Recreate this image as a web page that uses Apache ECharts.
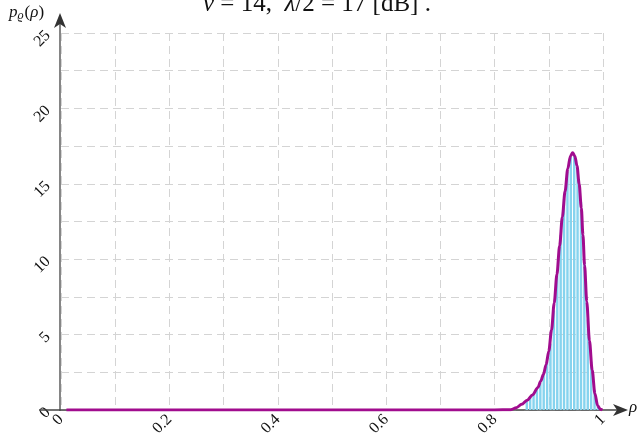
<!DOCTYPE html>
<html>
<head>
<meta charset="utf-8">
<script src="https://cdn.jsdelivr.net/npm/echarts@6/dist/echarts.min.js"></script>
<style>
  html, body { margin: 0; padding: 0; background: #fff; }
  #chart { width: 640px; height: 441px; }
</style>
</head>
<body>
<div id="chart"></div>
<script>
// histogram bins (centres) and heights
const binX = [0.8594, 0.8656, 0.8719, 0.8781, 0.8844, 0.8906, 0.8969, 0.9031, 0.9094, 0.9156, 0.9219,
  0.9281, 0.9344, 0.9406, 0.9469, 0.9531, 0.9594, 0.9656, 0.9719, 0.9781, 0.9844, 0.9906]
const binY = [0.6, 0.8, 1.1, 1.4, 1.8, 2.4, 3.2, 4.4, 6.6, 9.0, 11.6,
  14.0, 15.8, 16.8, 16.9, 15.9, 13.8, 9.8, 6.0, 3.2, 1.3, 0.3]

// density curve
const curveX = [0.01, 0.2, 0.4, 0.6, 0.8, 0.83, 0.84, 0.85, 0.86, 0.87, 0.88, 0.885, 0.89, 0.895, 0.9,
  0.905, 0.91, 0.915, 0.92, 0.925, 0.93, 0.935, 0.94, 0.944, 0.948, 0.952, 0.956, 0.96, 0.963,
  0.966, 0.97, 0.975, 0.98, 0.985, 0.99, 0.995, 0.999]
const curveY = [0, 0, 0, 0, 0, 0.02, 0.15, 0.38, 0.65, 1.0, 1.5, 1.9, 2.35, 3.0, 3.9,
  5.3, 7.1, 9.0, 10.9, 12.8, 14.5, 16.0, 16.85, 17.06, 16.85, 16.2, 15.0, 13.4, 11.6,
  9.6, 7.2, 4.6, 2.65, 1.1, 0.3, 0.05, 0]

const xLabels = ['0', '0.2', '0.4', '0.6', '0.8', '1']
const yLabels = ['0', '5', '10', '15', '20', '25']

const serif = '"Liberation Serif", "DejaVu Serif", serif'
const axisColor = '#444'

const chart = echarts.init(document.getElementById('chart'))

// only show the labelled ticks, the others are grid lines only
const pick = (labels) => (v) => {
  const s = labels.find(l => Math.abs(parseFloat(l) - v) < 1e-6)
  return s !== undefined ? s : ''
}

chart.setOption({
  animation: false,
  title: {
    text: '{i|ν} = 14,  {i|λ}/2 = 17 [dB] .',
    left: 198,
    top: -13,
    textStyle: {
      fontFamily: serif,
      fontSize: 25,
      fontWeight: 'normal',
      color: '#111',
      rich: { i: { fontFamily: serif, fontStyle: 'italic', fontSize: 25, color: '#111' } }
    }
  },
  grid: { left: 61, right: 37, top: 33, bottom: 31 },
  xAxis: {
    type: 'value',
    min: 0,
    max: 1,
    interval: 0.1,
    axisLine: { show: false },
    axisTick: { show: false },
    axisLabel: {
      rotate: 45,
      margin: 7,
      fontFamily: serif,
      fontSize: 16,
      color: '#111',
      showMaxLabel: true,
      formatter: pick(xLabels)
    },
    splitLine: { show: true, lineStyle: { color: '#d4d4d4', type: [8, 5], width: 1 } }
  },
  yAxis: {
    type: 'value',
    min: 0,
    max: 25,
    interval: 2.5,
    axisLine: { show: false },
    axisTick: { show: false },
    axisLabel: {
      rotate: 45,
      margin: 13,
      fontFamily: serif,
      fontSize: 16,
      color: '#111',
      formatter: pick(yLabels)
    },
    splitLine: { show: true, lineStyle: { color: '#d4d4d4', type: [8, 5], width: 1 } }
  },
  graphic: [
    { type: 'line', z: 1, shape: { x1: 39, y1: 410, x2: 620, y2: 410 }, style: { stroke: axisColor, lineWidth: 1.3 } },
    { type: 'line', z: 1, shape: { x1: 60, y1: 411, x2: 60, y2: 20 }, style: { stroke: axisColor, lineWidth: 1.3 } },
    { type: 'polygon', z: 1, shape: { points: [[628, 410], [613, 404], [617, 410], [613, 416]] }, style: { fill: '#333' } },
    { type: 'polygon', z: 1, shape: { points: [[60, 13], [54, 28], [60, 24], [66, 28]] }, style: { fill: '#333' } },
    {
      type: 'text', left: 9, top: 4,
      style: {
        text: '{i|p}{s|ϱ}{n|(}{i|ρ}{n|)}',
        rich: {
          i: { fontFamily: serif, fontStyle: 'italic', fontSize: 17, fill: '#111' },
          n: { fontFamily: serif, fontSize: 17, fill: '#111' },
          s: { fontFamily: serif, fontStyle: 'italic', fontSize: 12, fill: '#111', padding: [7, 1, 0, 0] }
        }
      }
    },
    {
      type: 'text', left: 629, top: 399,
      style: { text: 'ρ', font: 'italic 17px ' + serif, fill: '#111' }
    }
  ],
  series: [
    {
      type: 'bar',
      data: binX.map((x, i) => [x, binY[i]]),
      barWidth: 2.4,
      itemStyle: { color: '#86d3ee' },
      z: 2
    },
    {
      type: 'line',
      data: curveX.map((x, i) => [x, curveY[i]]),
      showSymbol: false,
      smooth: 0.3,
      smoothMonotone: 'x',
      lineStyle: { color: '#a10c8e', width: 3 },
      z: 3
    }
  ]
})
</script>
</body>
</html>
